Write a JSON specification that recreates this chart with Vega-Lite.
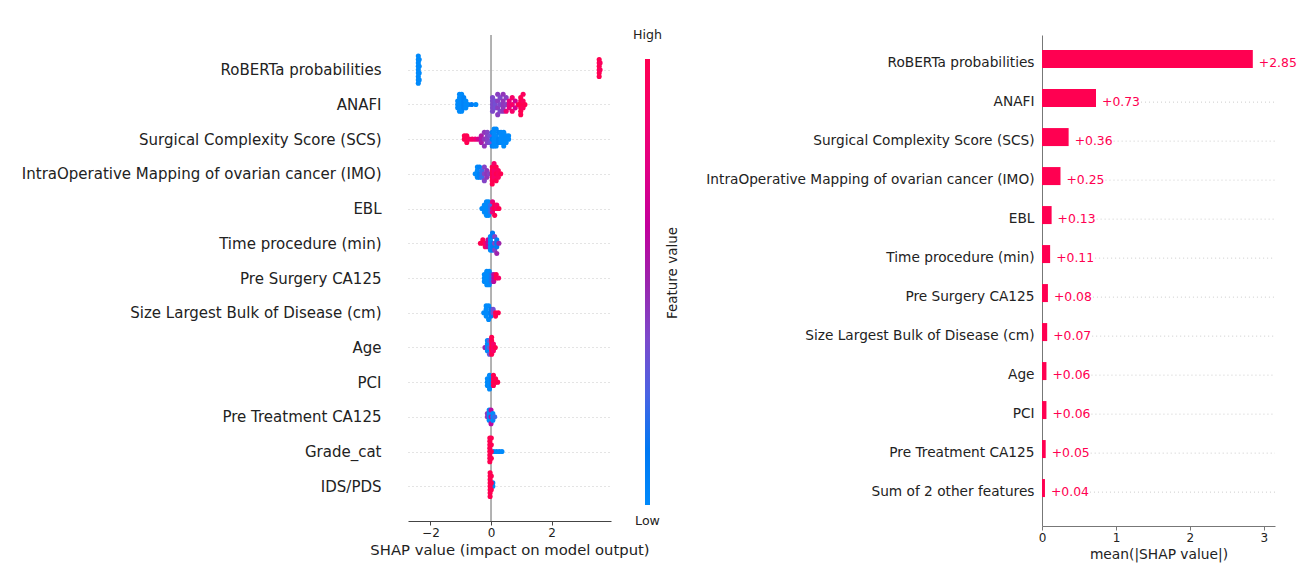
{
 "$schema": "https://vega.github.io/schema/vega-lite/v6.json",
 "autosize": {"type": "none"},
 "padding": {"left": 408, "top": 35, "right": 903, "bottom": 542},
 "background": "white",
 "config": {
  "font": "DejaVu Sans",
  "view": {"stroke": null},
  "axis": {"labelColor": "#222", "titleColor": "#222", "titleFontWeight": "normal", "domainColor": "#555", "tickColor": "#555", "labelFont": "DejaVu Sans", "titleFont": "DejaVu Sans", "labelLimit": 0}
 },
 "datasets": {
  "bars": [
   {"f": "RoBERTa probabilities", "v": 2.85},
   {"f": "ANAFI", "v": 0.73},
   {"f": "Surgical Complexity Score (SCS)", "v": 0.36},
   {"f": "IntraOperative Mapping of ovarian cancer (IMO)", "v": 0.25},
   {"f": "EBL", "v": 0.13},
   {"f": "Time procedure (min)", "v": 0.11},
   {"f": "Pre Surgery CA125", "v": 0.08},
   {"f": "Size Largest Bulk of Disease (cm)", "v": 0.07},
   {"f": "Age", "v": 0.06},
   {"f": "PCI", "v": 0.06},
   {"f": "Pre Treatment CA125", "v": 0.05},
   {"f": "Sum of 2 other features", "v": 0.04}
  ],
  "swarm": [
   {"f":"RoBERTa probabilities","v":-2.4,"c":0,"o":-4},{"f":"RoBERTa probabilities","v":-2.4,"c":0,"o":-3},{"f":"RoBERTa probabilities","v":-2.4,"c":0,"o":-2},{"f":"RoBERTa probabilities","v":-2.4,"c":0,"o":-1},{"f":"RoBERTa probabilities","v":-2.4,"c":0,"o":0},{"f":"RoBERTa probabilities","v":-2.4,"c":0,"o":1},{"f":"RoBERTa probabilities","v":-2.4,"c":0,"o":2},{"f":"RoBERTa probabilities","v":-2.4,"c":0,"o":3},{"f":"RoBERTa probabilities","v":-2.4,"c":0,"o":4},
   {"f":"RoBERTa probabilities","v":-2.37,"c":0,"o":-3},{"f":"RoBERTa probabilities","v":-2.37,"c":0,"o":-1},{"f":"RoBERTa probabilities","v":-2.37,"c":0,"o":1},{"f":"RoBERTa probabilities","v":-2.37,"c":0,"o":3},
   {"f":"RoBERTa probabilities","v":3.57,"c":1,"o":-3},{"f":"RoBERTa probabilities","v":3.57,"c":1,"o":-2},{"f":"RoBERTa probabilities","v":3.57,"c":1,"o":-1},{"f":"RoBERTa probabilities","v":3.57,"c":1,"o":0},{"f":"RoBERTa probabilities","v":3.57,"c":1,"o":1},{"f":"RoBERTa probabilities","v":3.57,"c":1,"o":2},
   {"f":"RoBERTa probabilities","v":3.6,"c":0.95,"o":-2},{"f":"RoBERTa probabilities","v":3.6,"c":0.95,"o":0},

   {"f":"ANAFI","v":-1.1,"c":0,"o":-1},{"f":"ANAFI","v":-1.1,"c":0,"o":0},{"f":"ANAFI","v":-1.1,"c":0,"o":1},
   {"f":"ANAFI","v":-1.04,"c":0,"o":-3},{"f":"ANAFI","v":-1.04,"c":0,"o":-2},{"f":"ANAFI","v":-1.04,"c":0,"o":-1},{"f":"ANAFI","v":-1.04,"c":0,"o":0},{"f":"ANAFI","v":-1.04,"c":0,"o":1},{"f":"ANAFI","v":-1.04,"c":0,"o":2},
   {"f":"ANAFI","v":-0.97,"c":0,"o":-3},{"f":"ANAFI","v":-0.97,"c":0,"o":-2},{"f":"ANAFI","v":-0.97,"c":0,"o":-1},{"f":"ANAFI","v":-0.97,"c":0,"o":0},{"f":"ANAFI","v":-0.97,"c":0,"o":1},{"f":"ANAFI","v":-0.97,"c":0,"o":2},
   {"f":"ANAFI","v":-0.9,"c":0.05,"o":-2},{"f":"ANAFI","v":-0.9,"c":0.05,"o":-1},{"f":"ANAFI","v":-0.9,"c":0.05,"o":0},{"f":"ANAFI","v":-0.9,"c":0.05,"o":1},
   {"f":"ANAFI","v":-0.83,"c":0,"o":-1},{"f":"ANAFI","v":-0.83,"c":0,"o":0},{"f":"ANAFI","v":-0.83,"c":0,"o":1},
   {"f":"ANAFI","v":-0.75,"c":0,"o":0},{"f":"ANAFI","v":-0.64,"c":0.1,"o":0},{"f":"ANAFI","v":-0.5,"c":0,"o":0},
   {"f":"ANAFI","v":0.05,"c":0.38,"o":-2},{"f":"ANAFI","v":0.05,"c":0.38,"o":-1},{"f":"ANAFI","v":0.05,"c":0.38,"o":0},{"f":"ANAFI","v":0.05,"c":0.38,"o":1},{"f":"ANAFI","v":0.05,"c":0.38,"o":2},
   {"f":"ANAFI","v":0.14,"c":0.35,"o":-1},{"f":"ANAFI","v":0.14,"c":0.35,"o":0},{"f":"ANAFI","v":0.14,"c":0.35,"o":1},
   {"f":"ANAFI","v":0.22,"c":0.42,"o":-3},{"f":"ANAFI","v":0.22,"c":0.42,"o":-1},{"f":"ANAFI","v":0.22,"c":0.42,"o":1},{"f":"ANAFI","v":0.22,"c":0.42,"o":3},
   {"f":"ANAFI","v":0.3,"c":0.38,"o":-2},{"f":"ANAFI","v":0.3,"c":0.38,"o":0},{"f":"ANAFI","v":0.3,"c":0.38,"o":2},
   {"f":"ANAFI","v":0.4,"c":0.45,"o":-3},{"f":"ANAFI","v":0.4,"c":0.45,"o":-1},{"f":"ANAFI","v":0.4,"c":0.45,"o":0},{"f":"ANAFI","v":0.4,"c":0.45,"o":1},{"f":"ANAFI","v":0.4,"c":0.45,"o":2},
   {"f":"ANAFI","v":0.5,"c":0.42,"o":-2},{"f":"ANAFI","v":0.5,"c":0.42,"o":0},{"f":"ANAFI","v":0.5,"c":0.85,"o":2},
   {"f":"ANAFI","v":0.6,"c":0.8,"o":-1},{"f":"ANAFI","v":0.6,"c":0.8,"o":0},{"f":"ANAFI","v":0.6,"c":0.8,"o":1},
   {"f":"ANAFI","v":0.7,"c":0.9,"o":-2},{"f":"ANAFI","v":0.7,"c":0.9,"o":0},{"f":"ANAFI","v":0.7,"c":0.9,"o":2},
   {"f":"ANAFI","v":0.8,"c":0.7,"o":-1},{"f":"ANAFI","v":0.8,"c":0.7,"o":1},{"f":"ANAFI","v":0.9,"c":1,"o":0},
   {"f":"ANAFI","v":0.98,"c":1,"o":-2},{"f":"ANAFI","v":0.98,"c":1,"o":-1},{"f":"ANAFI","v":0.98,"c":1,"o":0},{"f":"ANAFI","v":0.98,"c":1,"o":1},{"f":"ANAFI","v":0.98,"c":1,"o":2},{"f":"ANAFI","v":0.98,"c":1,"o":3},
   {"f":"ANAFI","v":1.06,"c":0.95,"o":-3},{"f":"ANAFI","v":1.06,"c":0.95,"o":-1},{"f":"ANAFI","v":1.06,"c":0.95,"o":1},{"f":"ANAFI","v":1.12,"c":1,"o":0},

   {"f":"Surgical Complexity Score (SCS)","v":-0.88,"c":1,"o":-1},{"f":"Surgical Complexity Score (SCS)","v":-0.88,"c":1,"o":0},
   {"f":"Surgical Complexity Score (SCS)","v":-0.8,"c":1,"o":-1},{"f":"Surgical Complexity Score (SCS)","v":-0.8,"c":1,"o":0},{"f":"Surgical Complexity Score (SCS)","v":-0.8,"c":1,"o":1},
   {"f":"Surgical Complexity Score (SCS)","v":-0.72,"c":0.95,"o":0},{"f":"Surgical Complexity Score (SCS)","v":-0.62,"c":0.9,"o":0},{"f":"Surgical Complexity Score (SCS)","v":-0.52,"c":0.85,"o":0},{"f":"Surgical Complexity Score (SCS)","v":-0.42,"c":0.7,"o":0},
   {"f":"Surgical Complexity Score (SCS)","v":-0.32,"c":0.55,"o":-1},{"f":"Surgical Complexity Score (SCS)","v":-0.32,"c":0.55,"o":0},{"f":"Surgical Complexity Score (SCS)","v":-0.32,"c":0.55,"o":1},
   {"f":"Surgical Complexity Score (SCS)","v":-0.22,"c":0.45,"o":-2},{"f":"Surgical Complexity Score (SCS)","v":-0.22,"c":0.45,"o":0},{"f":"Surgical Complexity Score (SCS)","v":-0.22,"c":0.45,"o":2},
   {"f":"Surgical Complexity Score (SCS)","v":-0.12,"c":0.4,"o":-2},{"f":"Surgical Complexity Score (SCS)","v":-0.12,"c":0.4,"o":-1},{"f":"Surgical Complexity Score (SCS)","v":-0.12,"c":0.4,"o":0},{"f":"Surgical Complexity Score (SCS)","v":-0.12,"c":0.4,"o":1},
   {"f":"Surgical Complexity Score (SCS)","v":-0.04,"c":0.35,"o":-1},{"f":"Surgical Complexity Score (SCS)","v":-0.04,"c":0.35,"o":1},
   {"f":"Surgical Complexity Score (SCS)","v":0.04,"c":0.1,"o":-2},{"f":"Surgical Complexity Score (SCS)","v":0.04,"c":0.1,"o":0},{"f":"Surgical Complexity Score (SCS)","v":0.04,"c":0.1,"o":2},
   {"f":"Surgical Complexity Score (SCS)","v":0.1,"c":0,"o":-3},{"f":"Surgical Complexity Score (SCS)","v":0.1,"c":0,"o":-2},{"f":"Surgical Complexity Score (SCS)","v":0.1,"c":0,"o":-1},{"f":"Surgical Complexity Score (SCS)","v":0.1,"c":0,"o":0},{"f":"Surgical Complexity Score (SCS)","v":0.1,"c":0,"o":1},{"f":"Surgical Complexity Score (SCS)","v":0.1,"c":0,"o":2},
   {"f":"Surgical Complexity Score (SCS)","v":0.17,"c":0,"o":-3},{"f":"Surgical Complexity Score (SCS)","v":0.17,"c":0,"o":-1},{"f":"Surgical Complexity Score (SCS)","v":0.17,"c":0,"o":0},{"f":"Surgical Complexity Score (SCS)","v":0.17,"c":0,"o":1},{"f":"Surgical Complexity Score (SCS)","v":0.17,"c":0,"o":2},
   {"f":"Surgical Complexity Score (SCS)","v":0.25,"c":0.05,"o":-2},{"f":"Surgical Complexity Score (SCS)","v":0.25,"c":0.05,"o":0},{"f":"Surgical Complexity Score (SCS)","v":0.25,"c":0.05,"o":1},
   {"f":"Surgical Complexity Score (SCS)","v":0.33,"c":0,"o":-2},{"f":"Surgical Complexity Score (SCS)","v":0.33,"c":0,"o":-1},{"f":"Surgical Complexity Score (SCS)","v":0.33,"c":0,"o":0},{"f":"Surgical Complexity Score (SCS)","v":0.33,"c":0,"o":1},
   {"f":"Surgical Complexity Score (SCS)","v":0.42,"c":0,"o":-2},{"f":"Surgical Complexity Score (SCS)","v":0.42,"c":0,"o":-1},{"f":"Surgical Complexity Score (SCS)","v":0.42,"c":0,"o":0},{"f":"Surgical Complexity Score (SCS)","v":0.42,"c":0,"o":1},{"f":"Surgical Complexity Score (SCS)","v":0.42,"c":0,"o":2},
   {"f":"Surgical Complexity Score (SCS)","v":0.5,"c":0,"o":-1},{"f":"Surgical Complexity Score (SCS)","v":0.5,"c":0,"o":0},{"f":"Surgical Complexity Score (SCS)","v":0.5,"c":0,"o":1},
   {"f":"Surgical Complexity Score (SCS)","v":0.58,"c":0,"o":-1},{"f":"Surgical Complexity Score (SCS)","v":0.58,"c":0,"o":0},

   {"f":"IntraOperative Mapping of ovarian cancer (IMO)","v":-0.52,"c":0,"o":0},
   {"f":"IntraOperative Mapping of ovarian cancer (IMO)","v":-0.45,"c":0,"o":-2},{"f":"IntraOperative Mapping of ovarian cancer (IMO)","v":-0.45,"c":0,"o":-1},{"f":"IntraOperative Mapping of ovarian cancer (IMO)","v":-0.45,"c":0,"o":0},{"f":"IntraOperative Mapping of ovarian cancer (IMO)","v":-0.45,"c":0,"o":1},
   {"f":"IntraOperative Mapping of ovarian cancer (IMO)","v":-0.38,"c":0.05,"o":-2},{"f":"IntraOperative Mapping of ovarian cancer (IMO)","v":-0.38,"c":0.05,"o":0},{"f":"IntraOperative Mapping of ovarian cancer (IMO)","v":-0.38,"c":0.05,"o":1},
   {"f":"IntraOperative Mapping of ovarian cancer (IMO)","v":-0.3,"c":0.2,"o":-1},{"f":"IntraOperative Mapping of ovarian cancer (IMO)","v":-0.3,"c":0.2,"o":0},{"f":"IntraOperative Mapping of ovarian cancer (IMO)","v":-0.3,"c":0.2,"o":1},
   {"f":"IntraOperative Mapping of ovarian cancer (IMO)","v":-0.22,"c":0.4,"o":-2},{"f":"IntraOperative Mapping of ovarian cancer (IMO)","v":-0.22,"c":0.4,"o":0},{"f":"IntraOperative Mapping of ovarian cancer (IMO)","v":-0.22,"c":0.4,"o":2},
   {"f":"IntraOperative Mapping of ovarian cancer (IMO)","v":-0.14,"c":0.45,"o":-1},{"f":"IntraOperative Mapping of ovarian cancer (IMO)","v":-0.14,"c":0.45,"o":0},{"f":"IntraOperative Mapping of ovarian cancer (IMO)","v":-0.14,"c":0.45,"o":1},
   {"f":"IntraOperative Mapping of ovarian cancer (IMO)","v":-0.06,"c":0.4,"o":0},
   {"f":"IntraOperative Mapping of ovarian cancer (IMO)","v":0.04,"c":1,"o":-2},{"f":"IntraOperative Mapping of ovarian cancer (IMO)","v":0.04,"c":1,"o":-1},{"f":"IntraOperative Mapping of ovarian cancer (IMO)","v":0.04,"c":1,"o":0},{"f":"IntraOperative Mapping of ovarian cancer (IMO)","v":0.04,"c":1,"o":1},{"f":"IntraOperative Mapping of ovarian cancer (IMO)","v":0.04,"c":1,"o":2},{"f":"IntraOperative Mapping of ovarian cancer (IMO)","v":0.04,"c":1,"o":3},
   {"f":"IntraOperative Mapping of ovarian cancer (IMO)","v":0.1,"c":0.9,"o":-3},{"f":"IntraOperative Mapping of ovarian cancer (IMO)","v":0.1,"c":0.9,"o":-1},{"f":"IntraOperative Mapping of ovarian cancer (IMO)","v":0.1,"c":0.9,"o":0},{"f":"IntraOperative Mapping of ovarian cancer (IMO)","v":0.1,"c":0.9,"o":1},
   {"f":"IntraOperative Mapping of ovarian cancer (IMO)","v":0.17,"c":1,"o":-2},{"f":"IntraOperative Mapping of ovarian cancer (IMO)","v":0.17,"c":1,"o":0},{"f":"IntraOperative Mapping of ovarian cancer (IMO)","v":0.17,"c":1,"o":2},
   {"f":"IntraOperative Mapping of ovarian cancer (IMO)","v":0.24,"c":0.95,"o":-1},{"f":"IntraOperative Mapping of ovarian cancer (IMO)","v":0.24,"c":0.95,"o":0},{"f":"IntraOperative Mapping of ovarian cancer (IMO)","v":0.24,"c":0.95,"o":1},
   {"f":"IntraOperative Mapping of ovarian cancer (IMO)","v":0.32,"c":1,"o":0},

   {"f":"EBL","v":-0.3,"c":0,"o":0},
   {"f":"EBL","v":-0.22,"c":0,"o":-1},{"f":"EBL","v":-0.22,"c":0,"o":0},{"f":"EBL","v":-0.22,"c":0,"o":1},
   {"f":"EBL","v":-0.15,"c":0,"o":-2},{"f":"EBL","v":-0.15,"c":0,"o":-1},{"f":"EBL","v":-0.15,"c":0,"o":0},{"f":"EBL","v":-0.15,"c":0,"o":1},{"f":"EBL","v":-0.15,"c":0,"o":2},
   {"f":"EBL","v":-0.08,"c":0,"o":-2},{"f":"EBL","v":-0.08,"c":0,"o":0},{"f":"EBL","v":-0.08,"c":0,"o":2},
   {"f":"EBL","v":-0.01,"c":0.2,"o":-1},{"f":"EBL","v":-0.01,"c":0.2,"o":0},{"f":"EBL","v":-0.01,"c":0.2,"o":1},
   {"f":"EBL","v":0.05,"c":0.8,"o":-2},{"f":"EBL","v":0.05,"c":0.8,"o":0},{"f":"EBL","v":0.05,"c":0.8,"o":1},
   {"f":"EBL","v":0.12,"c":1,"o":-1},{"f":"EBL","v":0.12,"c":1,"o":0},{"f":"EBL","v":0.12,"c":1,"o":2},
   {"f":"EBL","v":0.19,"c":0.9,"o":-1},{"f":"EBL","v":0.19,"c":0.9,"o":0},{"f":"EBL","v":0.26,"c":1,"o":0},

   {"f":"Time procedure (min)","v":-0.35,"c":1,"o":0},
   {"f":"Time procedure (min)","v":-0.27,"c":1,"o":-1},{"f":"Time procedure (min)","v":-0.27,"c":1,"o":0},
   {"f":"Time procedure (min)","v":-0.19,"c":0.9,"o":0},{"f":"Time procedure (min)","v":-0.19,"c":0.9,"o":1},
   {"f":"Time procedure (min)","v":-0.1,"c":0.6,"o":-1},{"f":"Time procedure (min)","v":-0.1,"c":0.6,"o":0},{"f":"Time procedure (min)","v":-0.1,"c":0.6,"o":1},
   {"f":"Time procedure (min)","v":-0.02,"c":0,"o":-2},{"f":"Time procedure (min)","v":-0.02,"c":0,"o":-1},{"f":"Time procedure (min)","v":-0.02,"c":0,"o":0},{"f":"Time procedure (min)","v":-0.02,"c":0,"o":1},{"f":"Time procedure (min)","v":-0.02,"c":0,"o":2},
   {"f":"Time procedure (min)","v":0.05,"c":0.1,"o":-3},{"f":"Time procedure (min)","v":0.05,"c":0.1,"o":-2},{"f":"Time procedure (min)","v":0.05,"c":0.1,"o":0},{"f":"Time procedure (min)","v":0.05,"c":0.1,"o":1},{"f":"Time procedure (min)","v":0.05,"c":0.1,"o":2},
   {"f":"Time procedure (min)","v":0.12,"c":0.4,"o":-2},{"f":"Time procedure (min)","v":0.12,"c":0.4,"o":0},{"f":"Time procedure (min)","v":0.12,"c":0.4,"o":2},
   {"f":"Time procedure (min)","v":0.19,"c":0.1,"o":-1},{"f":"Time procedure (min)","v":0.19,"c":0.1,"o":0},{"f":"Time procedure (min)","v":0.19,"c":0.1,"o":1},{"f":"Time procedure (min)","v":0.19,"c":0.5,"o":3},
   {"f":"Time procedure (min)","v":0.26,"c":0.5,"o":0},

   {"f":"Pre Surgery CA125","v":-0.22,"c":0,"o":-1},{"f":"Pre Surgery CA125","v":-0.22,"c":0,"o":0},{"f":"Pre Surgery CA125","v":-0.22,"c":0,"o":1},
   {"f":"Pre Surgery CA125","v":-0.14,"c":0,"o":-2},{"f":"Pre Surgery CA125","v":-0.14,"c":0,"o":-1},{"f":"Pre Surgery CA125","v":-0.14,"c":0,"o":0},{"f":"Pre Surgery CA125","v":-0.14,"c":0,"o":1},{"f":"Pre Surgery CA125","v":-0.14,"c":0,"o":2},
   {"f":"Pre Surgery CA125","v":-0.06,"c":0,"o":-2},{"f":"Pre Surgery CA125","v":-0.06,"c":0,"o":0},{"f":"Pre Surgery CA125","v":-0.06,"c":0,"o":2},
   {"f":"Pre Surgery CA125","v":0.01,"c":0.15,"o":-1},{"f":"Pre Surgery CA125","v":0.01,"c":0.15,"o":0},{"f":"Pre Surgery CA125","v":0.01,"c":0.15,"o":1},
   {"f":"Pre Surgery CA125","v":0.09,"c":0.6,"o":-1},{"f":"Pre Surgery CA125","v":0.09,"c":0.6,"o":0},{"f":"Pre Surgery CA125","v":0.09,"c":0.6,"o":1},
   {"f":"Pre Surgery CA125","v":0.17,"c":1,"o":-1},{"f":"Pre Surgery CA125","v":0.17,"c":1,"o":0},{"f":"Pre Surgery CA125","v":0.25,"c":0.9,"o":0},

   {"f":"Size Largest Bulk of Disease (cm)","v":-0.24,"c":0,"o":0},
   {"f":"Size Largest Bulk of Disease (cm)","v":-0.16,"c":0,"o":-2},{"f":"Size Largest Bulk of Disease (cm)","v":-0.16,"c":0,"o":-1},{"f":"Size Largest Bulk of Disease (cm)","v":-0.16,"c":0,"o":0},{"f":"Size Largest Bulk of Disease (cm)","v":-0.16,"c":0,"o":1},
   {"f":"Size Largest Bulk of Disease (cm)","v":-0.08,"c":0,"o":-2},{"f":"Size Largest Bulk of Disease (cm)","v":-0.08,"c":0,"o":0},{"f":"Size Largest Bulk of Disease (cm)","v":-0.08,"c":0,"o":2},
   {"f":"Size Largest Bulk of Disease (cm)","v":0,"c":0.1,"o":-1},{"f":"Size Largest Bulk of Disease (cm)","v":0,"c":0.1,"o":0},{"f":"Size Largest Bulk of Disease (cm)","v":0,"c":0.1,"o":1},
   {"f":"Size Largest Bulk of Disease (cm)","v":0.07,"c":0.35,"o":-1},{"f":"Size Largest Bulk of Disease (cm)","v":0.07,"c":0.35,"o":0},
   {"f":"Size Largest Bulk of Disease (cm)","v":0.15,"c":1,"o":0},{"f":"Size Largest Bulk of Disease (cm)","v":0.15,"c":1,"o":1},{"f":"Size Largest Bulk of Disease (cm)","v":0.24,"c":1,"o":0},

   {"f":"Age","v":-0.2,"c":0.5,"o":0},
   {"f":"Age","v":-0.12,"c":0,"o":-2},{"f":"Age","v":-0.12,"c":0,"o":-1},{"f":"Age","v":-0.12,"c":0,"o":0},{"f":"Age","v":-0.12,"c":0,"o":1},
   {"f":"Age","v":-0.05,"c":0.3,"o":-2},{"f":"Age","v":-0.05,"c":0.3,"o":0},{"f":"Age","v":-0.05,"c":0.3,"o":2},
   {"f":"Age","v":0.02,"c":1,"o":-3},{"f":"Age","v":0.02,"c":1,"o":-2},{"f":"Age","v":0.02,"c":1,"o":-1},{"f":"Age","v":0.02,"c":1,"o":0},{"f":"Age","v":0.02,"c":1,"o":1},{"f":"Age","v":0.02,"c":1,"o":2},
   {"f":"Age","v":0.08,"c":0.9,"o":-1},{"f":"Age","v":0.08,"c":0.9,"o":0},{"f":"Age","v":0.08,"c":0.9,"o":1},{"f":"Age","v":0.14,"c":1,"o":0},

   {"f":"PCI","v":-0.12,"c":0,"o":-1},{"f":"PCI","v":-0.12,"c":0,"o":0},{"f":"PCI","v":-0.12,"c":0,"o":1},
   {"f":"PCI","v":-0.05,"c":0,"o":-2},{"f":"PCI","v":-0.05,"c":0,"o":-1},{"f":"PCI","v":-0.05,"c":0,"o":0},{"f":"PCI","v":-0.05,"c":0,"o":1},{"f":"PCI","v":-0.05,"c":0,"o":2},
   {"f":"PCI","v":0.02,"c":0.05,"o":-1},{"f":"PCI","v":0.02,"c":0.05,"o":0},{"f":"PCI","v":0.02,"c":0.05,"o":1},
   {"f":"PCI","v":0.08,"c":1,"o":-2},{"f":"PCI","v":0.08,"c":1,"o":-1},{"f":"PCI","v":0.08,"c":1,"o":0},{"f":"PCI","v":0.08,"c":1,"o":1},
   {"f":"PCI","v":0.15,"c":1,"o":-1},{"f":"PCI","v":0.15,"c":1,"o":0},{"f":"PCI","v":0.22,"c":1,"o":0},

   {"f":"Pre Treatment CA125","v":-0.12,"c":0.45,"o":-1},{"f":"Pre Treatment CA125","v":-0.12,"c":0.45,"o":0},
   {"f":"Pre Treatment CA125","v":-0.06,"c":0,"o":-2},{"f":"Pre Treatment CA125","v":-0.06,"c":0,"o":-1},{"f":"Pre Treatment CA125","v":-0.06,"c":0,"o":0},{"f":"Pre Treatment CA125","v":-0.06,"c":0,"o":1},
   {"f":"Pre Treatment CA125","v":0,"c":0.6,"o":-2},{"f":"Pre Treatment CA125","v":0,"c":0.6,"o":0},{"f":"Pre Treatment CA125","v":0,"c":0.6,"o":2},
   {"f":"Pre Treatment CA125","v":0.06,"c":0,"o":-1},{"f":"Pre Treatment CA125","v":0.06,"c":0,"o":0},{"f":"Pre Treatment CA125","v":0.06,"c":0,"o":1},{"f":"Pre Treatment CA125","v":0.12,"c":0.2,"o":0},

   {"f":"Grade_cat","v":0.09,"c":0,"o":0},{"f":"Grade_cat","v":0.18,"c":0,"o":0},{"f":"Grade_cat","v":0.27,"c":0,"o":0},{"f":"Grade_cat","v":0.36,"c":0,"o":0},
   {"f":"Grade_cat","v":-0.04,"c":1,"o":-4},{"f":"Grade_cat","v":-0.04,"c":1,"o":-3},{"f":"Grade_cat","v":-0.04,"c":1,"o":-2},{"f":"Grade_cat","v":-0.04,"c":1,"o":-1},{"f":"Grade_cat","v":-0.04,"c":1,"o":0},{"f":"Grade_cat","v":-0.04,"c":1,"o":1},{"f":"Grade_cat","v":-0.04,"c":1,"o":2},{"f":"Grade_cat","v":-0.04,"c":1,"o":3},
   {"f":"Grade_cat","v":0.01,"c":1,"o":-4},{"f":"Grade_cat","v":0.01,"c":1,"o":-2},{"f":"Grade_cat","v":0.01,"c":1,"o":0},{"f":"Grade_cat","v":0.01,"c":1,"o":2},

   {"f":"IDS/PDS","v":0.06,"c":0,"o":-1},{"f":"IDS/PDS","v":0.06,"c":0,"o":0},
   {"f":"IDS/PDS","v":-0.03,"c":1,"o":-4},{"f":"IDS/PDS","v":-0.03,"c":1,"o":-3},{"f":"IDS/PDS","v":-0.03,"c":1,"o":-2},{"f":"IDS/PDS","v":-0.03,"c":1,"o":-1},{"f":"IDS/PDS","v":-0.03,"c":1,"o":0},{"f":"IDS/PDS","v":-0.03,"c":1,"o":1},{"f":"IDS/PDS","v":-0.03,"c":1,"o":2},{"f":"IDS/PDS","v":-0.03,"c":1,"o":3},
   {"f":"IDS/PDS","v":0.01,"c":1,"o":-3},{"f":"IDS/PDS","v":0.01,"c":1,"o":-1},{"f":"IDS/PDS","v":0.01,"c":1,"o":1}
  ]
 },
 "bounds": "flush",
 "spacing": 634,
 "hconcat": [
  {
   "bounds": "flush",
   "spacing": 34,
   "hconcat": [
    {
     "width": 203,
     "height": 486,
     "layer": [
      {
       "data": {"values": [{"v": 0}]},
       "mark": {"type": "rule", "color": "#999999", "strokeWidth": 1.5},
       "encoding": {
        "x": {"field": "v", "type": "quantitative", "scale": {"domain": [-2.74, 3.96], "nice": false, "zero": false}, "axis": {"values": [-2, 0, 2], "title": "SHAP value (impact on model output)", "titleFontSize": 14.8, "labelFontSize": 12, "tickSize": 4, "grid": false, "labelFlush": false, "domainColor": "#444", "tickColor": "#444"}}
       }
      },
      {
       "data": {"name": "swarm"},
       "mark": {"type": "circle", "size": 26, "opacity": 1},
       "encoding": {
        "x": {"field": "v", "type": "quantitative", "title": "SHAP value (impact on model output)"},
        "y": {"field": "f", "type": "nominal", "sort": ["RoBERTa probabilities", "ANAFI", "Surgical Complexity Score (SCS)", "IntraOperative Mapping of ovarian cancer (IMO)", "EBL", "Time procedure (min)", "Pre Surgery CA125", "Size Largest Bulk of Disease (cm)", "Age", "PCI", "Pre Treatment CA125", "Grade_cat", "IDS/PDS"], "scale": {"type": "point", "padding": 1}, "axis": {"title": null, "domain": false, "ticks": false, "labelPadding": 27, "labelFontSize": 15, "labelLimit": 0, "grid": true, "gridDash": [1, 3], "gridColor": "#c8c8c8", "gridWidth": 1}},
        "yOffset": {"field": "o", "type": "quantitative", "scale": {"domain": [-4, 4], "range": [-13.6, 13.6]}},
        "color": {"field": "c", "type": "quantitative", "legend": null, "scale": {"domain": [0, 0.125, 0.25, 0.375, 0.5, 0.625, 0.75, 0.875, 1], "range": ["#008afb", "#0078f3", "#4b63e3", "#7d49cb", "#9b24ad", "#c2009c", "#e00086", "#f5006d", "#ff0051"]}}
       }
      }
     ]
    },
    {
     "width": 5,
     "height": 486,
     "layer": [
      {
       "data": {"values": [{"lo": 0, "hi": 1}]},
       "mark": {"type": "rect", "color": {"gradient": "linear", "x1": 0, "y1": 1, "x2": 0, "y2": 0, "stops": [{"offset": 0, "color": "#008afb"}, {"offset": 0.125, "color": "#0078f3"}, {"offset": 0.25, "color": "#4b63e3"}, {"offset": 0.375, "color": "#7d49cb"}, {"offset": 0.5, "color": "#9b24ad"}, {"offset": 0.625, "color": "#c2009c"}, {"offset": 0.75, "color": "#e00086"}, {"offset": 0.875, "color": "#f5006d"}, {"offset": 1, "color": "#ff0051"}]}},
       "encoding": {
        "y": {"field": "lo", "type": "quantitative", "scale": {"domain": [-0.03587, 1.0538], "nice": false, "zero": false}, "axis": null},
        "y2": {"field": "hi"}
       }
      },
      {
       "data": {"values": [{"t": "High", "p": 1}]},
       "mark": {"type": "text", "dy": -24, "fontSize": 12.6, "color": "#222", "baseline": "middle"},
       "encoding": {"y": {"field": "p", "type": "quantitative"}, "text": {"field": "t"}}
      },
      {
       "data": {"values": [{"t": "Low", "p": 0}]},
       "mark": {"type": "text", "dy": 16, "fontSize": 12.6, "color": "#222", "baseline": "middle"},
       "encoding": {"y": {"field": "p", "type": "quantitative"}, "text": {"field": "t"}}
      },
      {
       "data": {"values": [{"t": "Feature value", "p": 0.5}]},
       "mark": {"type": "text", "angle": 270, "dx": 9, "dy": 25, "fontSize": 13.5, "color": "#222", "baseline": "middle", "align": "center"},
       "encoding": {"y": {"field": "p", "type": "quantitative"}, "text": {"field": "t"}}
      }
     ]
    }
   ]
  },
  {
   "width": 233,
   "height": 491,
   "data": {"name": "bars"},
   "encoding": {
    "y": {"field": "f", "type": "nominal", "sort": ["RoBERTa probabilities", "ANAFI", "Surgical Complexity Score (SCS)", "IntraOperative Mapping of ovarian cancer (IMO)", "EBL", "Time procedure (min)", "Pre Surgery CA125", "Size Largest Bulk of Disease (cm)", "Age", "PCI", "Pre Treatment CA125", "Sum of 2 other features"], "scale": {"paddingInner": 0.33, "paddingOuter": 0.46, "align": 0.42}, "axis": {"title": null, "domain": true, "domainColor": "#777", "ticks": false, "labelPadding": 8, "labelFontSize": 13.7, "labelLimit": 0, "grid": false}}
   },
   "layer": [
    {
     "transform": [{"filter": "datum.v < 2"}],
     "mark": {"type": "rule", "color": "#cccccc", "strokeDash": [1, 3], "strokeWidth": 1, "xOffset": 45},
     "encoding": {
      "x": {"field": "v", "type": "quantitative"},
      "x2": {"datum": 3.15}
     }
    },
    {
     "mark": {"type": "bar", "color": "#ff0051"},
     "encoding": {
      "x": {"field": "v", "type": "quantitative", "scale": {"domain": [0, 3.15], "nice": false}, "axis": {"values": [0, 1, 2, 3], "format": "d", "title": "mean(|SHAP value|)", "titleFontSize": 13.8, "labelFontSize": 12, "tickSize": 4, "grid": false, "domainColor": "#777", "tickColor": "#777", "labelFlush": false}}
     }
    },
    {
     "mark": {"type": "text", "align": "left", "dx": 6, "color": "#ff0051", "fontSize": 12.4, "baseline": "middle"},
     "encoding": {
      "x": {"field": "v", "type": "quantitative"},
      "text": {"field": "v", "type": "quantitative", "format": "+.2f"}
     }
    }
   ]
  }
 ]
}
